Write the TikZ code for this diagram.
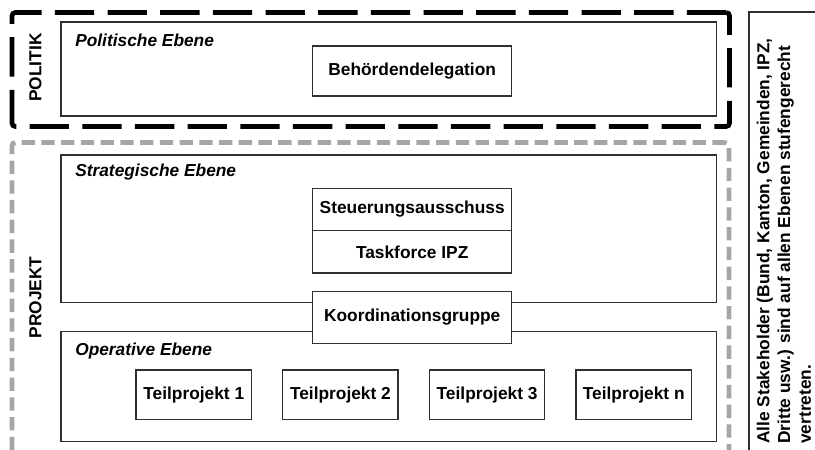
\documentclass[tikz,border=0pt]{standalone}
\usepackage{fontspec}
\setmainfont{Liberation Sans}
\usepackage{tikz}
\usetikzlibrary{positioning, fit}
\usepackage{xcolor}
\definecolor{rahmengrau}{HTML}{A6A6A6}
\definecolor{liniendunkel}{HTML}{303030}

\begin{document}
\begin{tikzpicture}[x=0.75pt, y=-0.75pt,
		font=\fontsize{13}{15.6}\selectfont\bfseries,
		politikrahmen/.style={draw=black, line width=3.5pt, dash pattern=on 29.5pt off 10pt, rounded corners=2.5pt, inner sep=0pt},
		projektrahmen/.style={draw=rahmengrau, line width=3.6pt, dash pattern=on 10pt off 4.8pt, rounded corners=2.5pt, inner sep=0pt},
		ebene/.style={draw=liniendunkel, line width=1pt, inner sep=0pt},
		ebenentitel/.style={anchor=base west, inner sep=0pt, font=\fontsize{13}{15.6}\selectfont\bfseries\itshape},
		gremium/.style={draw=liniendunkel, line width=1pt, fill=white, minimum width=149.25pt, inner sep=0pt, outer sep=0pt, align=center},
		teilprojekt/.style={draw=liniendunkel, line width=1pt, minimum width=86.6pt, minimum height=37pt, inner sep=0pt},
		seitentitel/.style={rotate=90, inner sep=0pt}
	]
	\useasboundingbox (0,0) rectangle (815,450);
	\clip (0,0) rectangle (815,450);

	% Rahmen Politik und Projekt
	\node[politikrahmen, fit={(12,12.5) (729.5,126.5)}] (politik) {};
	\node[projektrahmen, fit={(12,142.5) (729,475)}] (projekt) {};
	\node[seitentitel] (politiktitel) at (35.5,67.5) {POLITIK};
	\node[seitentitel] (projekttitel) at (35.5,297.5) {PROJEKT};

	% Ebenen
	\node[ebene, fit={(61,22) (716.7,116)}] (politisch) {};
	\node[ebene, fit={(61,155) (716.7,302.7)}] (strategisch) {};
	\node[ebene, fit={(61,331.7) (716.7,441.7)}] (operativ) {};
	\node[ebenentitel] (politischtitel) at (75,46) {Politische Ebene};
	\node[ebenentitel] (strategischtitel) at (75,176.7) {Strategische Ebene};
	\node[ebenentitel] (operativtitel) at (75,355) {Operative Ebene};

	% Gremien
	\node[gremium, minimum height=37.5pt] (delegation) at (412.2,71) {Behördendelegation};
	\node[gremium, minimum height=31.8pt] (steuerung) at (412.2,209.5) {Steuerungsausschuss};
	\node[gremium, minimum height=31.8pt, below=0pt of steuerung] (taskforce) {Taskforce IPZ};
	\node[gremium, minimum height=38.7pt] (koordination) at (412.2,317.5) {Koordinationsgruppe};

	% Teilprojekte
	\foreach \nr/\name [count=\i from 0] in {1/1, 2/2, 3/3, 4/n}
		\node[teilprojekt] (tp\nr) at (193.75+146.67*\i,394.7) {Teilprojekt \name};

	% Stakeholder
	\node[draw=liniendunkel, line width=1pt, inner sep=0pt, fit={(749,12) (850,475)}] (stakeholder) {};
	\node[seitentitel, anchor=north west, align=left] (stakeholdertext) at (756.5,444) {Alle Stakeholder (Bund, Kanton, Gemeinden, IPZ,\\Dritte usw.) sind auf allen Ebenen stufengerecht\\vertreten.};
\end{tikzpicture}
\end{document}
